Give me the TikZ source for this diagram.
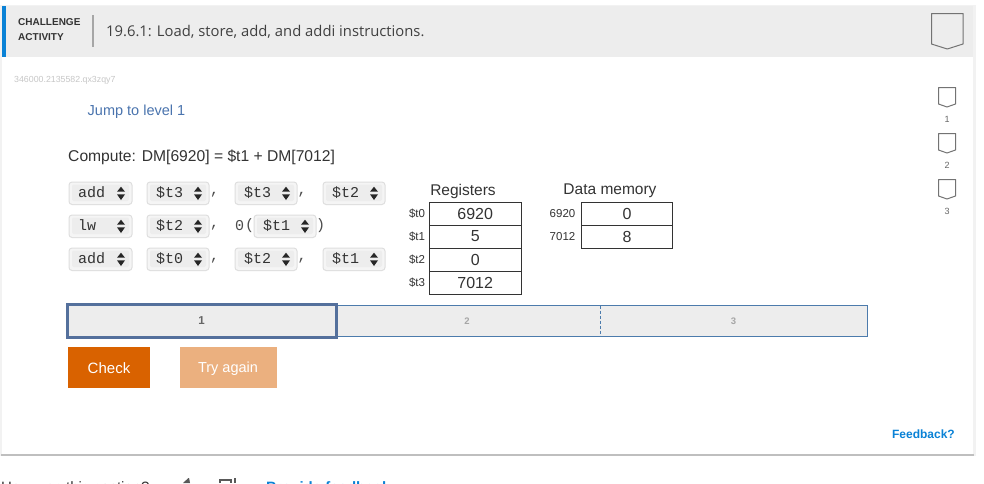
\documentclass[tikz,border=0pt]{standalone}
\usepackage{fontspec}
\setmainfont{Liberation Sans}
\newfontfamily\titlefont{Open Sans}
\setmonofont{Liberation Mono}
\definecolor{hdr}{HTML}{EDEDED}
\definecolor{zyblue}{HTML}{0A82D6}
\definecolor{linkblue}{HTML}{4A74AE}
\definecolor{bar}{HTML}{4C7BAC}
\definecolor{active}{HTML}{54709C}
\definecolor{txt}{HTML}{333333}
\definecolor{orng}{HTML}{D96200}
\definecolor{orngl}{HTML}{EBB07F}
\tikzset{
 lbl/.style={inner sep=0pt,anchor=center,text=txt},
 selt/.style={inner sep=0pt,anchor=west,font=\ttfamily\fontsize{15}{15}\selectfont,text=black!80},
 sym/.style={inner sep=0pt,anchor=center,font=\ttfamily\fontsize{15}{15}\selectfont,text=black!70},
 cellb/.style={draw=txt,line width=1pt,minimum width=92pt,minimum height=23pt,inner sep=0pt,font=\fontsize{16}{16}\selectfont,text=txt,anchor=north west},
 rname/.style={inner sep=0pt,anchor=center,font=\fontsize{11.5}{12}\selectfont,text=txt},
 bmark/.style={draw=black!55,line width=1pt,line join=round},
 mnum/.style={inner sep=0pt,anchor=center,font=\fontsize{9}{9}\selectfont,text=black!60},
 pnum/.style={inner sep=0pt,anchor=center,font=\bfseries\fontsize{9.5}{9.5}\selectfont,text=black!35},
 btn/.style={inner sep=0pt,anchor=north west,text=white,font=\fontsize{15}{15}\selectfont},
}
\newcommand{\selbox}[4]{% x1, y1, x2, text
 \fill[black!13,rounded corners=3.5pt] (#1-.5,#2-.5) rectangle (#3+.5,#2+23);
 \fill[white!96!black,rounded corners=3pt] (#1+.5,#2+.5) rectangle (#3-.5,#2+22);
 \fill[hdr,rounded corners=2pt] (#1+3,#2+2.5) rectangle (#3-3,#2+19);
 \node[selt] (s#1x#2) at (#1+9,#2+10.5) {#4};
 \fill[black!85] (#3-15,#2+9.7) -- (#3-11,#2+4.7) -- (#3-7,#2+9.7) -- cycle;
 \fill[black!85] (#3-15,#2+12.3) -- (#3-11,#2+18) -- (#3-7,#2+12.3) -- cycle;
}
\newcommand{\bmk}[5]{% x1,y1,x2,y2 with point, point depth
 \draw[bmark] (#1,#2) -- (#3,#2) -- (#3,#4-#5) -- ({(#1+#3)/2},#4) -- (#1,#4-#5) -- cycle;
}
\begin{document}
\begin{tikzpicture}[x=1pt,y=-1pt]
\useasboundingbox (0,0) rectangle (984,483);
\fill[white] (0,0) rectangle (984,483);
% panel
\fill[black!5] (0,5) rectangle (976,456);
\fill[black!25] (1,454) rectangle (974,455.5);
\fill[white] (2,6) rectangle (973,454);
\fill[hdr] (2,6) rectangle (973,57);
\fill[zyblue] (2,6) rectangle (6,57);
\draw[black!35,line width=1.5pt] (93,15) -- (93,47);
\node[lbl,anchor=west,font=\bfseries\fontsize{10}{10}\selectfont] (ch) at (18,22) {CHALLENGE};
\node[lbl,anchor=west,font=\bfseries\fontsize{10}{10}\selectfont] (ac) at (18,37) {ACTIVITY};
\node[lbl,anchor=west,font=\titlefont\fontsize{14.8}{15}\selectfont,text=black!75] (title) at (106,31.5) {19.6.1: Load, store, add, and addi instructions.};
\bmk{931.5}{13.5}{963}{49}{5}
\node[lbl,anchor=west,font=\fontsize{8.8}{8.8}\selectfont,text=black!22] (code) at (14,80) {346000.2135582.qx3zqy7};
\node[lbl,anchor=west,font=\fontsize{14.5}{14.5}\selectfont,text=linkblue] (jump) at (87.5,111.5) {Jump to level 1};
% level marks
\bmk{938.5}{87.5}{955.5}{107}{3}
\node[mnum] (m1) at (947,119) {1};
\bmk{938.5}{133.5}{955.5}{153}{3}
\node[mnum] (m2) at (947,165) {2};
\bmk{938.5}{179.5}{955.5}{199}{3}
\node[mnum] (m3) at (947,211) {3};
% task
\node[lbl,anchor=west,font=\fontsize{15.65}{15.65}\selectfont] (task) at (68,157) {Compute: DM[6920] = \$t1 + DM[7012]};
% selects
\selbox{69}{182}{132}{add}
\selbox{147}{182}{209}{\$t3}
\node[sym] (c1) at (214.5,195) {,};
\selbox{235}{182}{297}{\$t3}
\node[sym] (c2) at (302,195) {,};
\selbox{323}{182}{385}{\$t2}
\selbox{69}{215}{132}{lw}
\selbox{147}{215}{209}{\$t2}
\node[sym] (c3) at (214.5,228) {,};
\node[sym] (zr) at (239.5,225.5) {0};
\node[sym] (op) at (249.5,225.5) {(};
\selbox{254}{215}{316}{\$t1}
\node[sym] (cp) at (320.5,225.5) {)};
\selbox{69}{248}{132}{add}
\selbox{147}{248}{209}{\$t0}
\node[sym] (c4) at (214.5,261) {,};
\selbox{235}{248}{297}{\$t2}
\node[sym] (c5) at (302,261) {,};
\selbox{323}{248}{385}{\$t1}
% registers
\node[lbl,font=\fontsize{15.5}{15.5}\selectfont] (rh) at (463,191) {Registers};
\node[cellb] (r0) at (428.7,201.5) {6920};
\node[cellb] (r1) at (428.7,224.5) {5};
\node[cellb] (r2) at (428.7,247.5) {0};
\node[cellb] (r3) at (428.7,270.5) {7012};
\node[rname] (n0) at (417,213.5) {\$t0};
\node[rname] (n1) at (417,236.5) {\$t1};
\node[rname] (n2) at (417,259.5) {\$t2};
\node[rname] (n3) at (417,282.5) {\$t3};
% memory
\node[lbl,font=\fontsize{15.5}{15.5}\selectfont] (dh) at (610,191) {Data memory};
\node[cellb,minimum width=91pt] (d0) at (581,201.5) {0};
\node[cellb,minimum width=91pt] (d1) at (581,224.5) {8};
\node[rname] (a0) at (562.5,213.5) {6920};
\node[rname] (a1) at (562.5,236.5) {7012};
% progress bar
\fill[hdr] (68,305.5) rectangle (867.5,336.5);
\draw[bar,line width=1pt] (336,305.5) -- (867.5,305.5) -- (867.5,336.5) -- (336,336.5);
\draw[bar,line width=1pt,dash pattern=on 3pt off 2pt] (600.5,305.5) -- (600.5,336.5);
\draw[active,line width=3pt] (67.5,304.5) rectangle (336.5,337.5);
\node[pnum,text=black!60,font=\bfseries\fontsize{11.5}{11.5}\selectfont] (p1) at (201.5,321) {1};
\node[pnum] (p2) at (467,321.5) {2};
\node[pnum] (p3) at (733.5,321.5) {3};
% buttons
\fill[orng] (68,347) rectangle (150,388);
\node[btn,anchor=center] (chk) at (109,368) {Check};
\fill[orngl] (180,347) rectangle (277,388);
\node[btn,anchor=center,font=\fontsize{14.5}{14.5}\selectfont] (try) at (228,369) {Try again};
\node[inner sep=0pt,anchor=east,text=zyblue,font=\bfseries\fontsize{12}{12}\selectfont] (fb) at (955,434.5) {Feedback?};
% clipped footer
\begin{scope}
\clip (0,478.5) rectangle (984,483);
\node[lbl,anchor=base west,font=\fontsize{15}{15}\selectfont] (how) at (1,492) {How was this section?};
\node[inner sep=0pt,anchor=base west,text=zyblue,font=\bfseries\fontsize{15}{15}\selectfont] (pf) at (266,492) {Provide feedback};
\fill[black!65] (183,483) -- (189,477.5) -- (190,483) -- cycle;
\draw[black!65,line width=1.5pt] (220,483) -- (220,480) -- (231,480) -- (231,483);
\draw[black!65,line width=1.5pt] (235,483) -- (235,478);
\end{scope}
\end{tikzpicture}
\end{document}
